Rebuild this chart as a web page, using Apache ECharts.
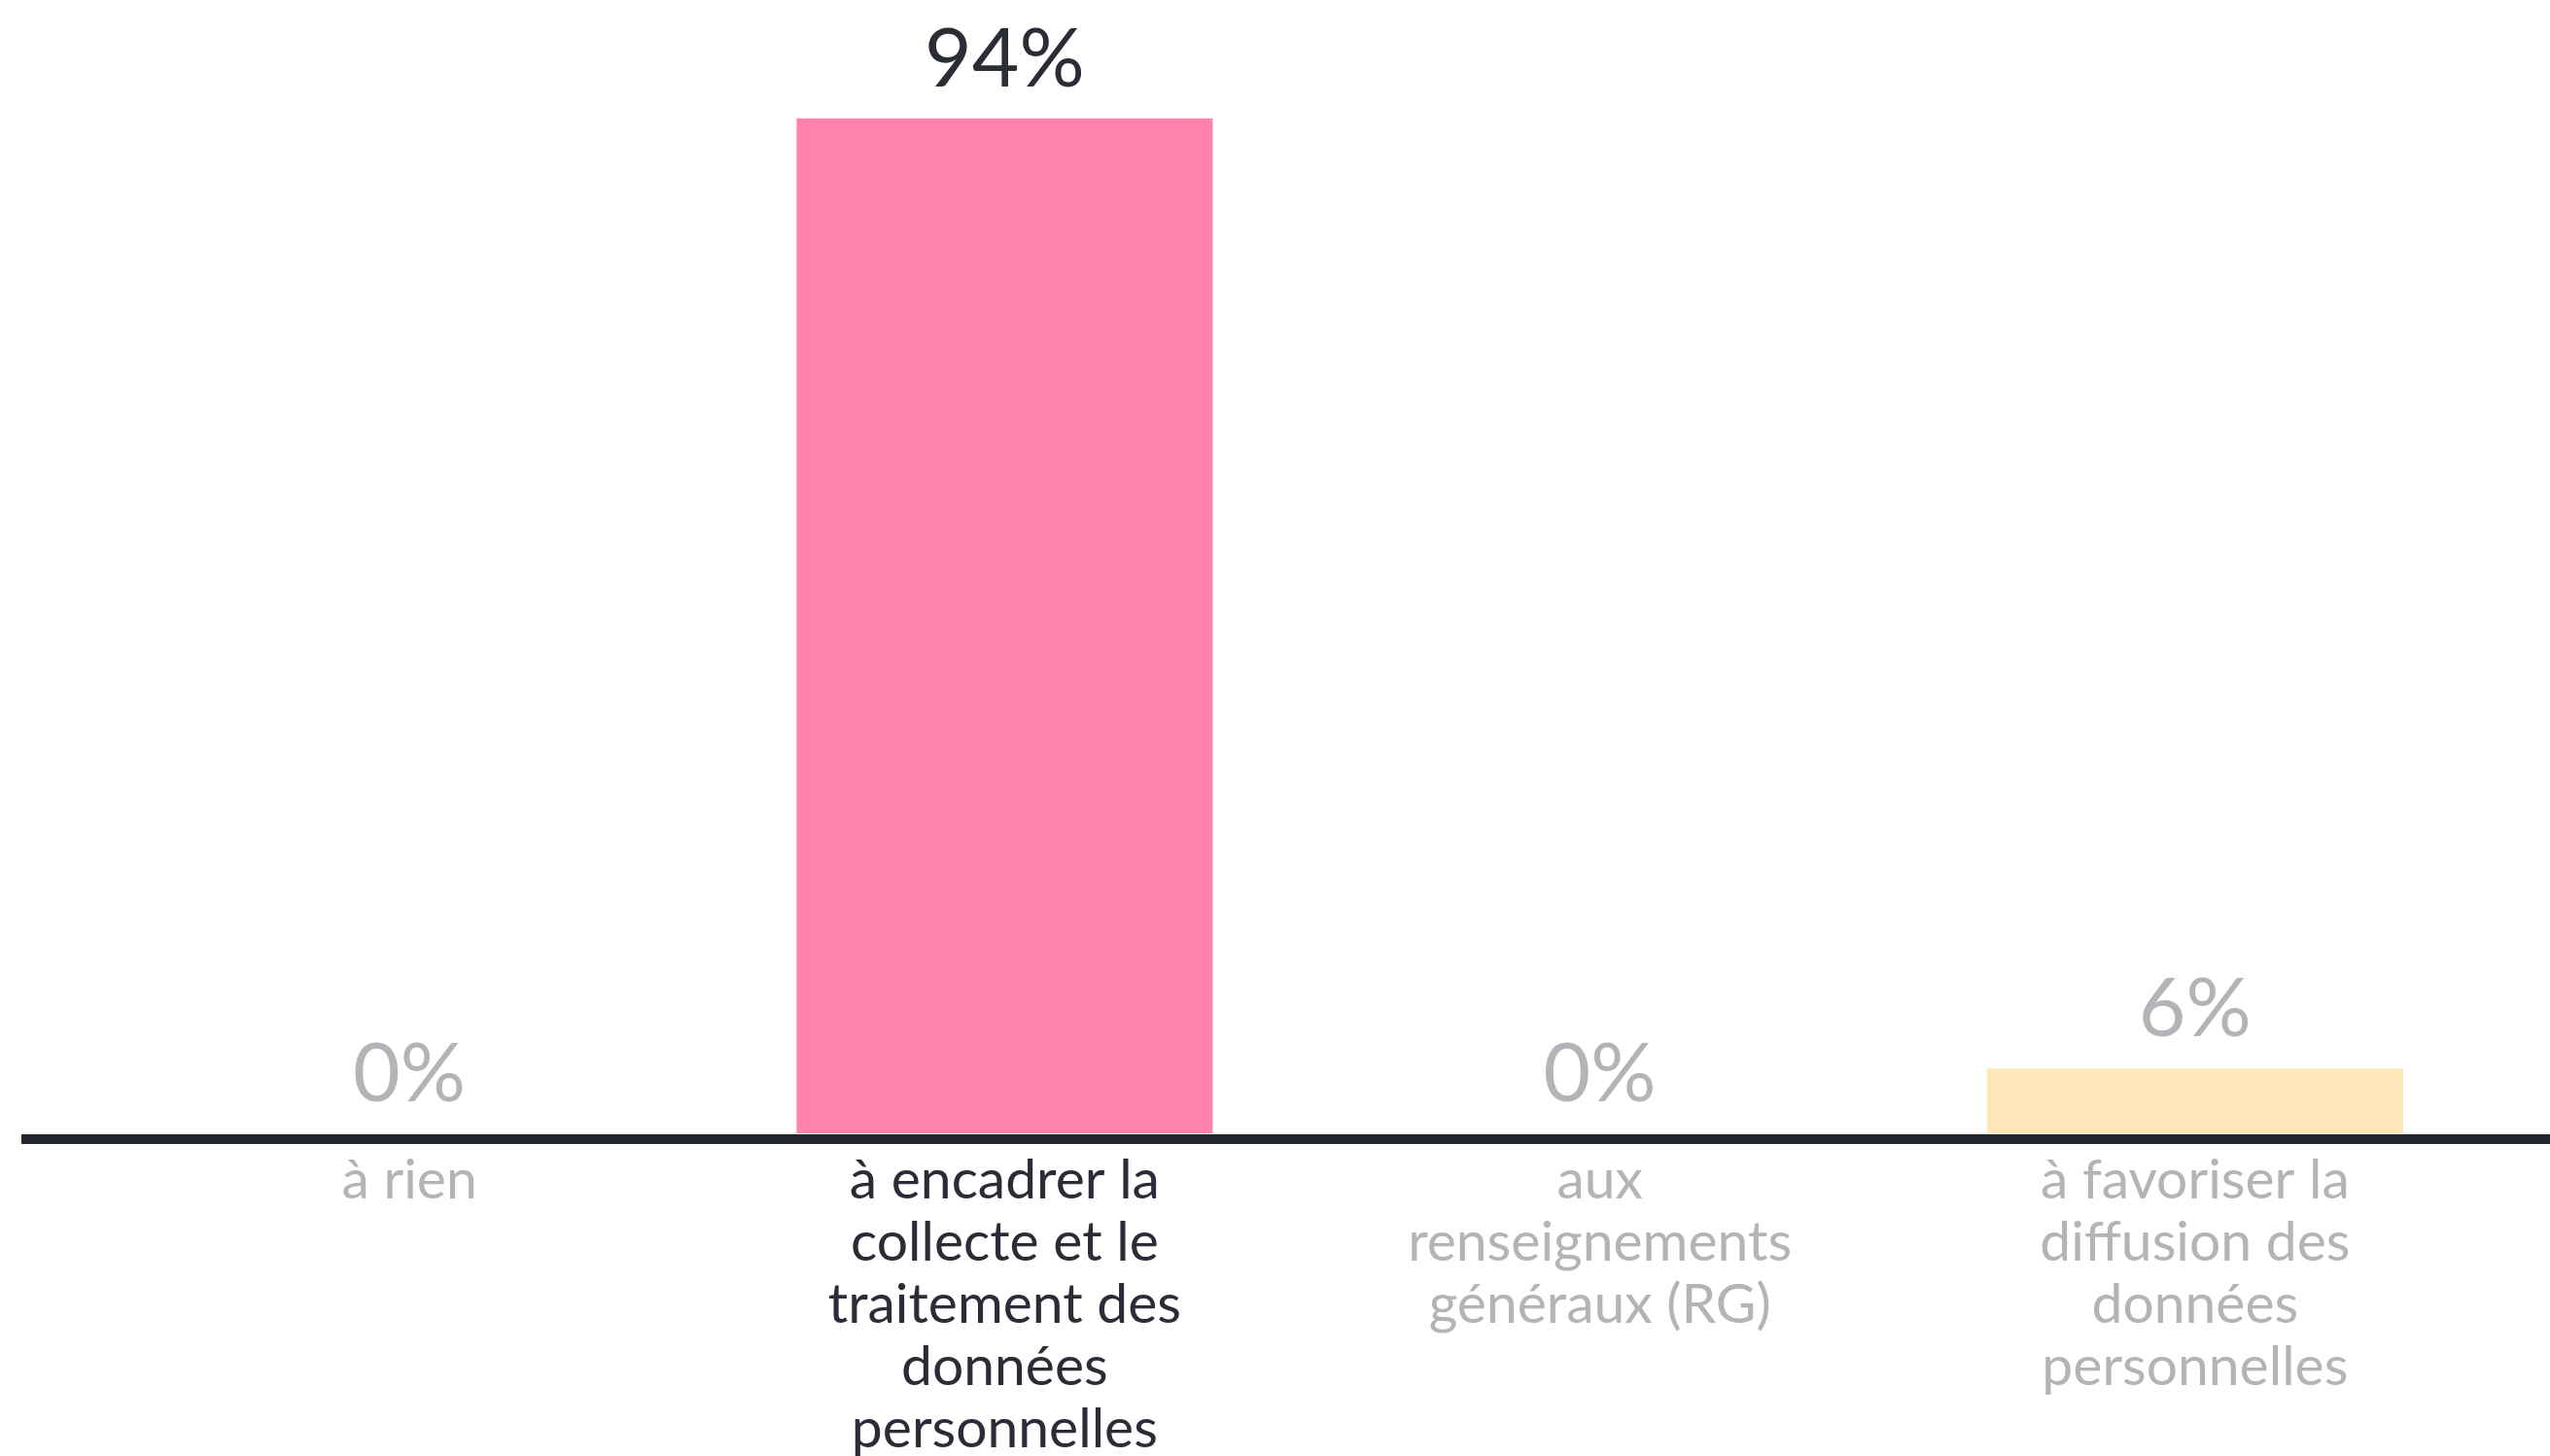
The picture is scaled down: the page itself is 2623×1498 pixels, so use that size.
<!DOCTYPE html>
<html>
<head>
<meta charset="utf-8">
<script src="https://cdn.jsdelivr.net/npm/echarts@6/dist/echarts.min.js"></script>
<style>
html,body{margin:0;padding:0;background:#ffffff;}
#chart{width:2623px;height:1498px;}
</style>
</head>
<body>
<div id="chart"></div>
<script>
const categories = [
  "à rien",
  "à encadrer la\ncollecte et le\ntraitement des\ndonnées\npersonnelles",
  "aux\nrenseignements\ngénéraux (RG)",
  "à favoriser la\ndiffusion des\ndonnées\npersonnelles"
];
const values = [0, 94, 0, 6];
const barColors = ["#ff82aa", "#ff82aa", "#ff82aa", "#fee8b9"];

const DARK = "#2a2d35";
const GRAY = "#b4b4b8";
const maxVal = Math.max(...values);
const FONT = "Lato";

const chart = echarts.init(document.getElementById('chart'));
const option = {
  backgroundColor: '#ffffff',
  animation: false,
  grid: { left: 115, right: 59, top: 55, bottom: 332, containLabel: false, outerBoundsMode: 'none' },
  xAxis: {
    type: 'category',
    data: categories,
    axisLine: { show: false },
    axisTick: { show: false },
    axisLabel: {
      interval: 0,
      margin: 17,
      fontFamily: FONT,
      fontSize: 57,
      lineHeight: 64,
      color: function (v, i) { return values[i] === maxVal ? DARK : GRAY; }
    }
  },
  yAxis: {
    type: 'value', min: 0, max: 100,
    show: false,
    splitLine: { show: false }
  },
  series: [{
    type: 'bar',
    barWidth: 428,
    data: values.map((v, i) => ({
      value: v,
      itemStyle: { color: barColors[i] },
      label: { color: v === maxVal ? DARK : GRAY }
    })),
    label: {
      show: true,
      position: 'top',
      distance: 18,
      fontFamily: FONT,
      fontSize: 84,
      formatter: p => p.value + '%'
    }
  }]
};
chart.setOption(option);
const y0 = chart.convertToPixel({ yAxisIndex: 0 }, 0);
chart.setOption({
  graphic: [{
    type: 'rect',
    shape: { x: 22, y: y0 + 1, width: 2601, height: 10 },
    style: { fill: '#25272e' },
    z: 10
  }]
});
</script>
</body>
</html>
